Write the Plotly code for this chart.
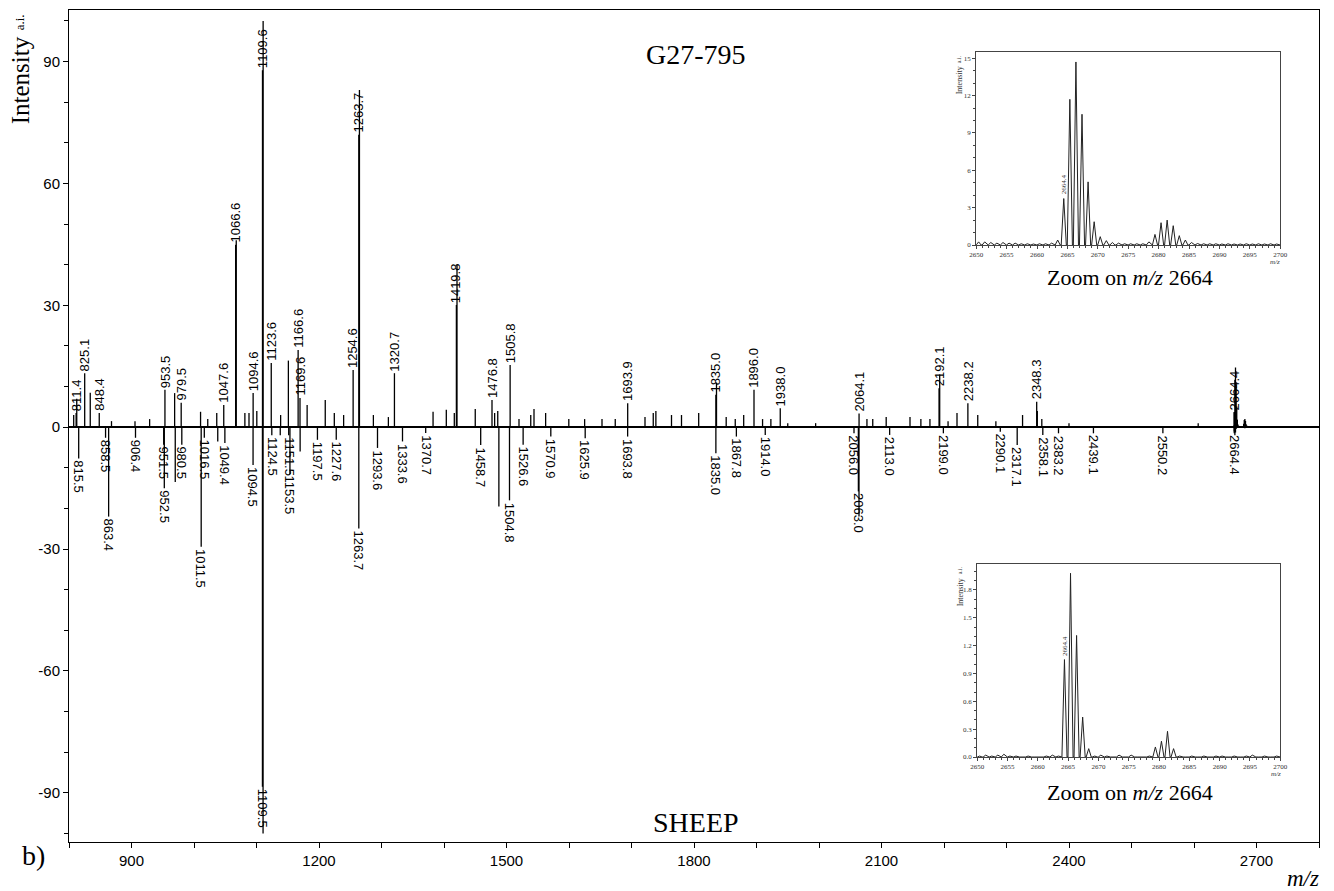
import plotly.graph_objects as go

# ---------------- DATA ----------------
# G27-795 spectrum (upper half) - labelled peaks (m/z, intensity a.i.)
g27_mz = [811.4, 825.1, 848.4, 953.5, 979.5, 1047.6, 1066.6, 1094.6, 1109.6, 1123.6,
          1166.6, 1169.6, 1254.6, 1263.7, 1320.7, 1419.8, 1476.8, 1505.8, 1693.9, 1835.0,
          1896.0, 1938.0, 2064.1, 2192.1, 2238.2, 2348.3, 2664.4]
g27_int = [3.5, 13.3, 3.5, 9.2, 6.0, 5.5, 44.9, 8.4, 87.9, 15.8,
           19.0, 7.2, 14.1, 72.0, 13.3, 30.1, 6.7, 15.3, 5.9, 8.0,
           9.2, 4.7, 3.4, 9.6, 5.9, 6.3, 3.7]
# G27-795 - unlabelled peaks (isotopes and minor signals)
g27_minor_mz = [807.5, 812.4, 834.0, 868.0, 905.6, 929.0, 969.0, 1010.5, 1022.0, 1036.4,
                1067.6, 1081.4, 1088.0, 1100.5, 1110.6, 1138.6, 1151.0, 1181.0, 1210.0, 1224.5,
                1239.4, 1264.7, 1287.0, 1311.0, 1382.5, 1403.7, 1416.5, 1420.8, 1450.0, 1481.0,
                1486.0, 1520.0, 1538.8, 1544.0, 1562.6, 1599.7, 1625.0, 1652.8, 1674.0, 1721.6,
                1734.8, 1739.0, 1764.0, 1780.0, 1807.5, 1836.0, 1851.5, 1866.0, 1879.5, 1909.7,
                1923.0, 1950.0, 1994.6, 2076.7, 2086.0, 2107.5, 2145.6, 2163.0, 2177.5, 2193.1,
                2206.5, 2220.8, 2254.0, 2283.0, 2325.7, 2349.3, 2356.5, 2400.0, 2606.7]
g27_minor_int = [3.0, 7.0, 8.5, 1.5, 1.5, 2.0, 8.4, 3.8, 2.0, 3.5,
                 46.0, 3.5, 3.5, 4.0, 100.0, 3.0, 16.4, 5.5, 6.7, 3.5,
                 3.0, 83.0, 3.0, 2.5, 3.8, 4.3, 3.5, 40.0, 4.5, 3.5,
                 4.0, 2.0, 3.0, 4.5, 3.5, 2.0, 2.0, 2.0, 2.0, 2.5,
                 3.5, 4.0, 3.0, 3.0, 3.5, 11.0, 2.5, 2.0, 3.0, 2.0,
                 2.0, 1.0, 1.0, 2.0, 2.0, 2.5, 2.5, 2.0, 2.0, 13.0,
                 1.5, 3.5, 3.0, 1.5, 3.0, 4.0, 2.0, 1.0, 1.0]

# SHEEP spectrum (lower half, plotted downward) - labelled peaks
sheep_mz = [815.5, 858.5, 863.4, 906.4, 951.5, 952.5, 980.5, 1011.5, 1016.5, 1049.4,
            1094.5, 1109.5, 1124.5, 1151.5, 1153.5, 1197.5, 1227.6, 1263.7, 1293.6, 1333.6,
            1370.7, 1458.7, 1504.8, 1526.6, 1570.9, 1625.9, 1693.8, 1835.0, 1867.8, 1914.0,
            2056.0, 2063.0, 2113.0, 2199.0, 2290.1, 2317.1, 2358.1, 2383.2, 2439.1, 2550.2,
            2664.4]
sheep_int = [7.7, 2.6, 22.0, 2.6, 4.3, 15.0, 4.3, 29.4, 2.6, 3.9,
             9.3, 88.5, 2.0, 2.0, 11.5, 3.1, 3.1, 24.9, 5.1, 3.5,
             1.4, 4.4, 18.0, 4.3, 2.3, 2.7, 2.3, 6.4, 2.3, 1.9,
             1.5, 15.8, 1.9, 1.5, 1.1, 4.4, 1.9, 1.5, 1.5, 1.5,
             1.5]
sheep_minor_mz = [970.0, 1038.0, 1110.5, 1138.0, 1169.8, 1487.8, 2064.0]
sheep_minor_int = [13.5, 3.5, 100.0, 2.0, 6.0, 19.5, 22.0]

# Zoom on m/z 2664 (isotopic clusters)
zoom_mz = [2650.4, 2651.4, 2652.4, 2653.4, 2654.4, 2655.4, 2656.4, 2657.4, 2658.4, 2659.4,
           2660.4, 2661.4, 2662.4, 2663.4, 2664.4, 2665.4, 2666.4, 2667.4, 2668.4, 2669.4,
           2670.4, 2671.4, 2672.4, 2673.4, 2674.4, 2675.4, 2676.4, 2677.4, 2678.4, 2679.4,
           2680.4, 2681.4, 2682.4, 2683.4, 2684.4, 2685.4, 2686.4, 2687.4, 2688.4, 2689.4,
           2690.4, 2691.4, 2692.4, 2693.4, 2694.4, 2695.4, 2696.4, 2697.4, 2698.4, 2699.4]
g27_zoom_int = [0.25, 0.25, 0.2, 0.15, 0.2, 0.15, 0.15, 0.1, 0.1, 0.08,
                0.1, 0.1, 0.15, 0.4, 3.73, 11.7, 14.7, 10.5, 5.07, 1.87,
                0.67, 0.35, 0.2, 0.15, 0.1, 0.1, 0.1, 0.1, 0.25, 0.85,
                1.79, 2.0, 1.55, 0.75, 0.4, 0.2, 0.12, 0.1, 0.1, 0.1,
                0.08, 0.1, 0.08, 0.08, 0.1, 0.08, 0.1, 0.08, 0.1, 0.08]
sheep_zoom_int = [0.01, 0.02, 0.01, 0.02, 0.03, 0.01, 0.01, 0.0, 0.01, 0.0,
                  0.0, 0.01, 0.02, 0.01, 1.05, 1.98, 1.31, 0.43, 0.09, 0.01,
                  0.02, 0.01, 0.0, 0.02, 0.0, 0.02, 0.0, 0.0, 0.01, 0.108,
                  0.17, 0.277, 0.09, 0.01, 0.0, 0.01, 0.0, 0.01, 0.0, 0.01,
                  0.01, 0.0, 0.01, 0.0, 0.01, 0.02, 0.0, 0.01, 0.0, 0.01]
zoom_label_mz = 2664.4

main_x_range = [800, 2800]
main_y_range = [-102.1, 102.7]
main_y_ticks = [-90, -60, -30, 0, 30, 60, 90]
main_x_ticks = [900, 1200, 1500, 1800, 2100, 2400, 2700]
zoom_x_range = [2650, 2700]
g27_zoom_y_range = [0, 15.5]
sheep_zoom_y_range = [0, 2.08]

# ---------------- LAYOUT HELPERS ----------------
W, H = 1334, 891
ML, MR, MT, MB = 69, 7, 10, 49
PW, PH = W - ML - MR, H - MT - MB
SERIF = "Liberation Serif, Times New Roman, serif"
SANS = "Liberation Sans, Arial, sans-serif"


def pp(xp, yp):
    return (xp - ML) / PW, (H - MB - yp) / PH


def sticks(mz, inten, sign):
    xs, ys = [], []
    for m, v in zip(mz, inten):
        xs += [m, m, None]
        ys += [0, sign * v, None]
    return xs, ys


def profile(mz, inten, xr, hw=0.42):
    xs, ys = [xr[0]], [0]
    for m, v in zip(mz, inten):
        xs += [m - hw, m, m + hw]
        ys += [0, v, 0]
    xs.append(xr[1])
    ys.append(0)
    return xs, ys


fig = go.Figure()

# main spectrum sticks
for mz, it, sign in [(g27_mz, g27_int, 1), (g27_minor_mz, g27_minor_int, 1),
                     (zoom_mz, g27_zoom_int, 1),
                     (sheep_mz, sheep_int, -1), (sheep_minor_mz, sheep_minor_int, -1),
                     (zoom_mz, sheep_zoom_int, -1)]:
    xs, ys = sticks(mz, it, sign)
    fig.add_trace(go.Scatter(x=xs, y=ys, mode="lines", line=dict(color="black", width=1.3),
                             hoverinfo="skip", showlegend=False, xaxis="x", yaxis="y"))

# insets
xs, ys = profile(zoom_mz, g27_zoom_int, zoom_x_range)
fig.add_trace(go.Scatter(x=xs, y=ys, mode="lines", line=dict(color="#222", width=1),
                         showlegend=False, hoverinfo="skip", xaxis="x2", yaxis="y2"))
xs, ys = profile(zoom_mz, sheep_zoom_int, zoom_x_range)
fig.add_trace(go.Scatter(x=xs, y=ys, mode="lines", line=dict(color="#222", width=1),
                         showlegend=False, hoverinfo="skip", xaxis="x3", yaxis="y3"))

ann = []
# peak labels
for m, v in zip(g27_mz, g27_int):
    ann.append(dict(x=m, y=v, xref="x", yref="y", text=f"{m:.1f}", textangle=-90,
                    xanchor="center", yanchor="bottom", yshift=1, showarrow=False,
                    font=dict(family=SANS, size=13, color="black"), borderpad=0))
for m, v in zip(sheep_mz, sheep_int):
    ann.append(dict(x=m, y=-v, xref="x", yref="y", text=f"{m:.1f}", textangle=90,
                    xanchor="center", yanchor="top", yshift=-1, showarrow=False,
                    font=dict(family=SANS, size=13, color="black"), borderpad=0))

# inset labels for first isotope
gi = zoom_mz.index(zoom_label_mz)
ann.append(dict(x=zoom_label_mz, y=g27_zoom_int[gi], xref="x2", yref="y2",
                text=f"{zoom_label_mz:.1f}", textangle=-90, xanchor="center", yanchor="bottom",
                yshift=2, showarrow=False, font=dict(family=SERIF, size=7, color="#333")))
ann.append(dict(x=zoom_label_mz, y=sheep_zoom_int[gi], xref="x3", yref="y3",
                text=f"{zoom_label_mz:.1f}", textangle=-90, xanchor="center", yanchor="bottom",
                yshift=2, showarrow=False, font=dict(family=SERIF, size=7, color="#333")))


def txt(xp, yp, text, size, family=SERIF, angle=0, xanchor="center", yanchor="middle", color="black"):
    x, y = pp(xp, yp)
    ann.append(dict(x=x, y=y, xref="paper", yref="paper", text=text, textangle=angle,
                    xanchor=xanchor, yanchor=yanchor, showarrow=False,
                    font=dict(family=family, size=size, color=color)))


txt(700, 55, "G27-795", 28)
txt(700, 822, "SHEEP", 28)
txt(33, 855, "b)", 28)
txt(1311, 879, "<i>m/z</i>", 23)
txt(20, 80, "Intensity", 25, angle=-90)
txt(20, 22, "a.i.", 13, angle=-90)
txt(1137, 277, "Zoom on <i>m/z</i> 2664", 22)
txt(1137, 792, "Zoom on <i>m/z</i> 2664", 22)
# inset axis titles
txt(965, 80, "Intensity", 8, angle=-90, color="#333")
txt(965, 59, "a.i.", 6, angle=-90, color="#333")
txt(1283, 262, "<i>m/z</i>", 7, color="#333")
txt(966, 592, "Intensity", 8, angle=-90, color="#333")
txt(966, 570, "a.i.", 6, angle=-90, color="#333")
txt(1284, 774, "<i>m/z</i>", 7, color="#333")

# inset domains
i1x0, i1y1 = pp(982, 52)
i1x1, i1y0 = pp(1288, 245)
i2x0, i2y1 = pp(983, 564)
i2x1, i2y0 = pp(1288, 757)

axis_common = dict(showgrid=False, zeroline=False, showline=True, mirror=True,
                   linecolor="black", linewidth=1, ticks="outside", tickcolor="black")
inset_common = dict(showgrid=False, zeroline=False, showline=True, mirror=True,
                    linecolor="#444", linewidth=1, ticks="outside", tickcolor="#444",
                    ticklen=3, tickfont=dict(family=SERIF, size=7, color="#333"))

fig.update_layout(
    width=W, height=H,
    autosize=False,
    margin=dict(l=ML, r=MR, t=MT, b=MB),
    paper_bgcolor="white", plot_bgcolor="white",
    showlegend=False,
    xaxis=dict(range=main_x_range, tickvals=main_x_ticks,
               ticktext=[str(v) for v in main_x_ticks], ticklen=5,
               tickfont=dict(family=SANS, size=15, color="black"),
               minor=dict(dtick=100, tick0=800, ticks="outside", ticklen=5, tickcolor="black"),
               **axis_common),
    yaxis=dict(range=main_y_range, tickvals=main_y_ticks,
               ticktext=[str(v) for v in main_y_ticks], ticklen=5,
               tickfont=dict(family=SANS, size=15, color="black"),
               minor=dict(dtick=10, tick0=0, ticks="outside", ticklen=4, tickcolor="black"),
               **{**axis_common, "zeroline": True}, zerolinecolor="black", zerolinewidth=2),
    xaxis2=dict(domain=[i1x0, i1x1], anchor="y2", range=zoom_x_range, dtick=5, tick0=2650,
                minor=dict(dtick=1, ticks="outside", ticklen=2, tickcolor="#444"), **inset_common),
    yaxis2=dict(domain=[i1y0, i1y1], anchor="x2", range=g27_zoom_y_range, dtick=3, tick0=0,
                minor=dict(dtick=1, ticks="outside", ticklen=2, tickcolor="#444"), **inset_common),
    xaxis3=dict(domain=[i2x0, i2x1], anchor="y3", range=zoom_x_range, dtick=5, tick0=2650,
                minor=dict(dtick=1, ticks="outside", ticklen=2, tickcolor="#444"), **inset_common),
    yaxis3=dict(domain=[i2y0, i2y1], anchor="x3", range=sheep_zoom_y_range, dtick=0.3, tick0=0,
                tickformat=".1f",
                minor=dict(dtick=0.1, ticks="outside", ticklen=2, tickcolor="#444"), **inset_common),
    annotations=ann,
)

fig.write_html(
    "out.html",
    config={"displayModeBar": False, "responsive": False},
    post_script="document.body.style.margin='0px';document.body.style.overflow='hidden';"
                "document.documentElement.style.overflow='hidden';",
)
